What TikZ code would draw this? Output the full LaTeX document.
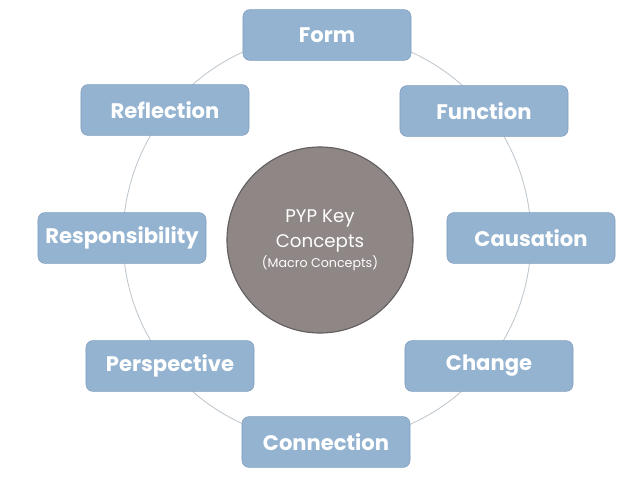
\documentclass[tikz,border=0pt]{standalone}
\usepackage{fontspec}
\setmainfont{Poppins}
\usepackage{tikz}
\usetikzlibrary{positioning,calc}
\definecolor{conceptblue}{RGB}{147,179,209}
\definecolor{conceptedge}{RGB}{128,158,190}
\definecolor{coregray}{RGB}{143,134,134}
\definecolor{coreedge}{RGB}{100,94,94}
\definecolor{ringgray}{RGB}{190,198,204}

\begin{document}
\begin{tikzpicture}[
        x=0.025cm, y=-0.025cm,
        concept/.style={rectangle, draw=conceptedge, fill=conceptblue, rounded corners=5pt, minimum width=4.2cm, minimum height=1.27cm, align=center, text=white, font=\bfseries\fontsize{15}{18}\selectfont},
        core/.style={circle, draw=coreedge, line width=0.8pt, fill=coregray, minimum size=4.65cm, align=center, text=white, font=\fontsize{13}{18}\selectfont},
        ring/.style={draw=ringgray, line width=0.6pt}
    ]
        \useasboundingbox (0,0) rectangle (638,479);

        % Ring
        \coordinate (hub) at (327,238);
        \draw[ring] (hub) circle (204);

        % Key concepts
        \node[concept] (form) at (327,35) {Form};
        \node[concept] (function) at (484,111) {Function};
        \node[concept] (causation) at (531,238) {Causation};
        \node[concept] (change) at (489,366) {Change};
        \node[concept] (connection) at (326,442) {Connection};
        \node[concept] (perspective) at (170,366) {Perspective};
        \node[concept] (responsibility) at (122,238) {Responsibility};
        \node[concept] (reflection) at (165,110) {Reflection};

        % Centre
        \node[core] (pyp) at (320,240) {PYP Key\\Concepts\\[-4pt]{\fontsize{9}{11}\selectfont (Macro Concepts)}};

    \end{tikzpicture}
\end{document}
